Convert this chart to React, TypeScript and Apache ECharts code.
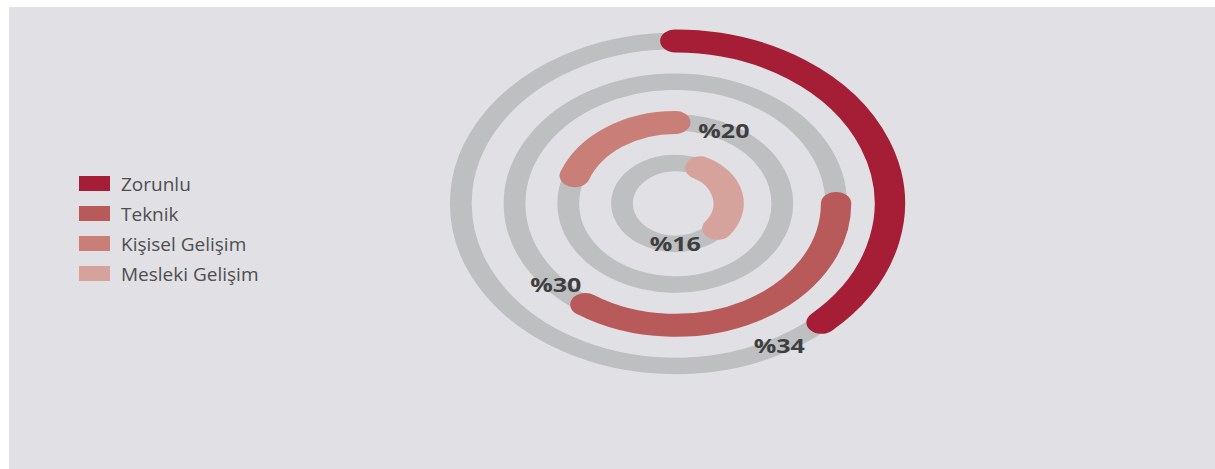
import React, { useEffect, useRef } from "react";
import * as echarts from "echarts";

// ---- data ----
const categories = ["Zorunlu", "Teknik", "Kişisel Gelişim", "Mesleki Gelişim"];
const percentages = [34, 30, 20, 16];
// arc geometry as drawn in the infographic (degrees, clockwise from 12 o'clock)
const arcStartDeg = [0, 90, 290, 28];
const arcSweepDeg = [137, 124, 70, 100];
const labelAngleDeg = [151, 228, 27, 180];

const colors = ["#a51e36", "#b85a59", "#c97f78", "#d6a39c"];
const trackColor = "#bebfc1";
const bgColor = "#e1e0e5";

export default function App() {
  const ref = useRef<HTMLDivElement>(null);

  useEffect(() => {
    if (!ref.current) return;
    const chart = echarts.init(ref.current, undefined, { renderer: "svg" });
    const SX = 1.32;
    const outerR = 162.5;
    const step = 40.7;
    const toRad = (d: number) => ((d - 90) * Math.PI) / 180;

    const series = categories.map((name, i) => ({
      type: "custom",
      name,
      coordinateSystem: "none",
      color: colors[i],
      data: [[percentages[i], arcStartDeg[i], arcSweepDeg[i], labelAngleDeg[i]]],
      renderItem: (params: any, api: any) => {
        const W = api.getWidth();
        const H = api.getHeight();
        const cx = W * 0.5525;
        const cy = H * 0.4253;
        const r = outerR - i * step;
        const v = api.value(0);
        const s = api.value(1);
        const sw = api.value(2);
        const la = api.value(3);
        const lx = r * Math.sin((la * Math.PI) / 180);
        const ly = -r * Math.cos((la * Math.PI) / 180);
        return {
          type: "group",
          x: cx,
          y: cy,
          scaleX: SX,
          children: [
            {
              type: "arc",
              shape: { cx: 0, cy: 0, r, startAngle: 0, endAngle: Math.PI * 2 },
              style: { stroke: trackColor, lineWidth: 16.5, fill: "none" },
            },
            {
              type: "arc",
              shape: {
                cx: 0,
                cy: 0,
                r,
                startAngle: toRad(s),
                endAngle: toRad(s + sw),
                clockwise: true,
              },
              style: { stroke: colors[i], lineWidth: 23, fill: "none", lineCap: "round" },
            },
            {
              type: "text",
              x: lx,
              y: ly,
              z2: 10,
              style: {
                text: "%" + v,
                fill: "#3e3e40",
                fontSize: 19,
                fontWeight: "bold",
                fontFamily: "Open Sans",
                align: "center",
                verticalAlign: "middle",
              },
            },
          ],
        };
      },
    }));

    chart.setOption({
      animation: false,
      backgroundColor: bgColor,
      legend: {
        orient: "vertical",
        left: 65,
        top: 162,
        icon: "rect",
        itemWidth: 31,
        itemHeight: 15,
        itemGap: 11,
        data: categories,
        textStyle: {
          fontSize: 19,
          fontFamily: "Open Sans",
          color: "#4e4e50",
          lineHeight: 15,
          padding: [0, 0, 0, 6],
        },
      },
      series,
    });
    return () => chart.dispose();
  }, []);

  return (
    <div
      ref={ref}
      style={{ position: "absolute", left: 9, top: 7, width: 1206, height: 462 }}
    />
  );
}
